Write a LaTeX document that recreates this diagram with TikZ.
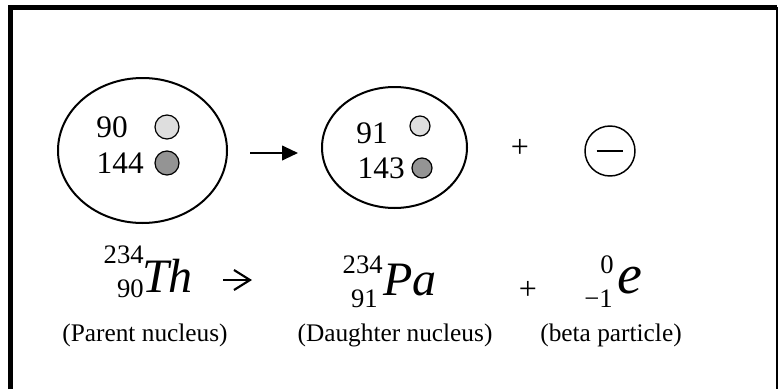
\documentclass[tikz,border=0pt]{standalone}
\usepackage{fontspec}
\setmainfont{Liberation Serif}[ItalicFont={Liberation Serif Italic}]
\usepackage{xcolor}
\usetikzlibrary{shapes.geometric}
\usetikzlibrary{arrows.meta}

\tikzset{
    nucleus/.style={ellipse, draw, line width=1.5pt, inner sep=0pt},
    proton/.style={circle, draw, line width=0.9pt, fill=black!13, inner sep=0pt, minimum size=18pt},
    neutron/.style={circle, draw, line width=0.9pt, fill=black!42, inner sep=0pt, minimum size=18pt},
    count/.style={font=\fontsize{23.5}{23.5}\selectfont, inner sep=0pt},
    symb/.style={font=\fontsize{36}{36}\selectfont\itshape, inner sep=0pt},
    iso/.style={font=\fontsize{20}{20}\selectfont, inner sep=0pt},
    caption/.style={font=\fontsize{19}{19}\selectfont, inner sep=0pt},
}

\begin{document}
\begin{tikzpicture}[x=0.75pt, y=-0.75pt]
    % Page area (pixel units, origin top left)
    \useasboundingbox (0,0) rectangle (778,389);

    % Frame: thick left and top, thin right, open at the bottom
    \draw[line width=3.5pt] (10.5,389) -- (10.5,7.3) -- (777,7.3);
    \draw[line width=1.5pt] (777,7.3) -- (777,389);

    % Parent nucleus
    \node[nucleus, minimum width=126.75pt, minimum height=108.75pt] (parent) at (142.5,150.5) {};
    \node[count, anchor=base east] (pz) at (128,137) {90};
    \node[count, anchor=base east] (pn) at (144,173) {144};
    \node[proton] (pp) at (167,127) {};
    \node[neutron] (pq) at (167,163) {};

    % Daughter nucleus
    \node[nucleus, minimum width=108.75pt, minimum height=90.75pt] (daughter) at (394.5,147.5) {};
    \node[count, anchor=base east] (dz) at (388,143) {91};
    \node[count, anchor=base east] (dn) at (405,178) {143};
    \node[proton, minimum size=15pt] (dp) at (420,126) {};
    \node[neutron, minimum size=15pt] (dq) at (422,168) {};

    % Decay arrow between the nuclei
    \coordinate (a1) at (250,153);
    \coordinate (a2) at (298,153);
    \draw[line width=1.5pt, -{Triangle[length=12pt, width=11pt]}] (a1) -- (a2);

    % Emitted electron
    \node[font=\fontsize{24}{24}\selectfont, inner sep=0pt] (plus1) at (520,148) {+};
    \node[circle, draw, line width=1.1pt, minimum size=37.5pt, inner sep=0pt] (beta) at (610,151) {};
    \draw[line width=1.1pt] ([xshift=-10pt]beta.center) -- ([xshift=10pt]beta.center);

    % Nuclear equation
    \node[symb, anchor=base west] (th) at (142,292) {Th};
    \node[iso, anchor=base east] (tha) at (144,263) {234};
    \node[iso, anchor=base east] (thz) at (144,297) {90};

    \coordinate (b1) at (223,280);
    \coordinate (b2) at (252,280);
    \draw[line width=1.6pt, -{Straight Barb[length=12pt, width=15pt]}] (b1) -- (b2);

    \node[symb, anchor=base west] (pa) at (383,295) {Pa};
    \node[iso, anchor=base east] (paa) at (383,273) {234};
    \node[iso, anchor=base east] (paz) at (378,307) {91};

    \node[font=\fontsize{24}{24}\selectfont, inner sep=0pt] (plus2) at (528,290) {+};

    \node[symb, font=\fontsize{42}{42}\selectfont\itshape, anchor=base west] (el) at (617,293) {e};
    \node[iso, anchor=base] (ela) at (607,273) {0};
    \node[iso, anchor=base east] (elz) at (613,307) {−1};

    % Captions
    \node[caption, anchor=base] (cp) at (145,341) {(Parent nucleus)};
    \node[caption, anchor=base] (cd) at (395,341) {(Daughter nucleus)};
    \node[caption, anchor=base] (cb) at (611,341) {(beta particle)};
\end{tikzpicture}
\end{document}
